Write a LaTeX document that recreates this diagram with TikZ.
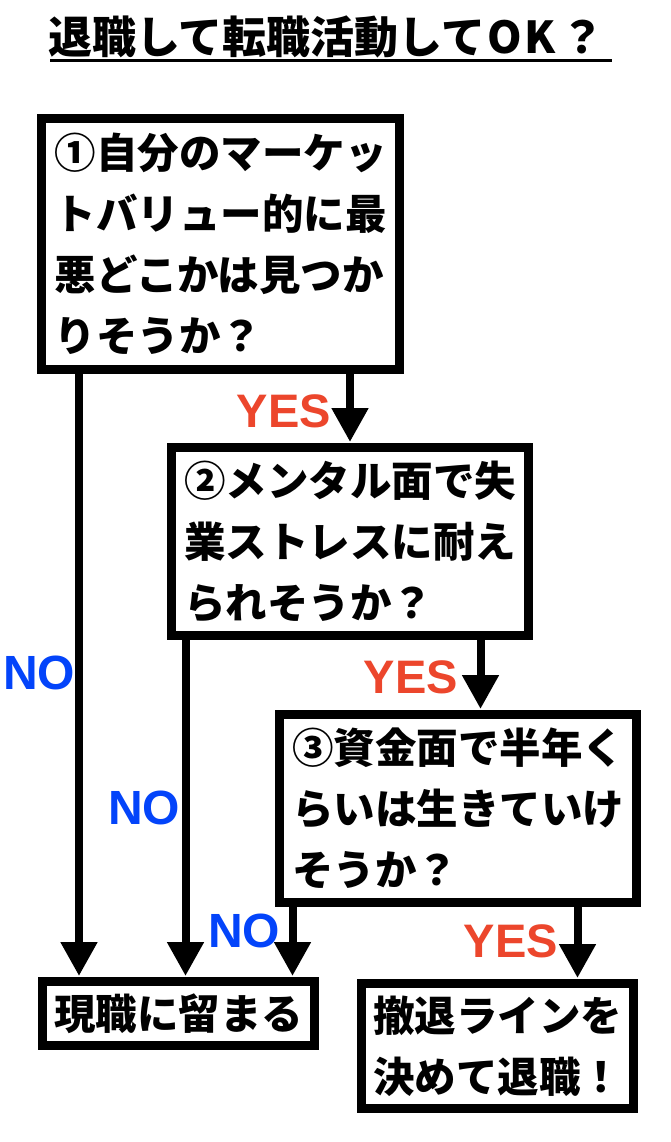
\documentclass[tikz,border=0pt]{standalone}
\usepackage{fontspec}
\newfontfamily\jp{Noto Sans CJK JP}
\newfontfamily\lat{Liberation Sans}
\usetikzlibrary{arrows.meta}
\definecolor{yescol}{RGB}{236,70,44}
\definecolor{nocol}{RGB}{3,68,250}
\begin{document}
\begin{tikzpicture}[x=1pt,y=-1pt,
  box/.style={draw=black, line width=9pt, inner sep=0pt, outer sep=0pt, align=left,
    font=\jp\bfseries\fontsize{41.5}{61}\selectfont},
  arr/.style={line width=8pt, -{Triangle[width=35pt,length=34pt]},
    shorten <=4.5pt, shorten >=5.5pt},
  yes/.style={font=\lat\bfseries\fontsize{47}{47}\selectfont, text=yescol,
    inner sep=0pt, anchor=base west},
  no/.style={font=\lat\bfseries\fontsize{48}{48}\selectfont, text=nocol,
    inner sep=0pt, anchor=base west},
  titlestyle/.style={font=\jp\bfseries\fontsize{44}{44}\selectfont,
    inner sep=0pt, anchor=base west}]
\fill[white] (0,0) rectangle (670,1142);
\useasboundingbox (0,0) rectangle (670,1142);

% title
\node[titlestyle] (t) at (48,54) {退職して転職活動して\kern2pt O\kern2pt K\kern5pt ？};
\draw[line width=2.5pt] (50,60.5) -- (612,60.5);

% boxes
\node[box, minimum width=358pt, minimum height=251pt] (b1) at (220.5,244)
  {①自分のマーケッ\\トバリュー的に最\\悪どこかは見つか\\りそうか？};
\node[box, minimum width=357pt, minimum height=188pt] (b2) at (350,541.5)
  {②メンタル面で失\\業ストレスに耐え\\られそうか？};
\node[box, minimum width=357pt, minimum height=188pt] (b3) at (458,808.5)
  {③資金面で半年く\\らいは生きていけ\\そうか？};
\node[box, minimum width=272pt, minimum height=64pt] (b4) at (178.5,1013.5)
  {現職に留まる};
\node[box, minimum width=272pt, minimum height=125pt] (b5) at (497.5,1046)
  {撤退ラインを\\決めて退職！};

% connector x positions
\coordinate (xa) at (79,0);
\coordinate (xb) at (350,0);
\coordinate (xc) at (185.5,0);
\coordinate (xd) at (480.5,0);
\coordinate (xe) at (292.5,0);
\coordinate (xf) at (577.5,0);

\draw[arr] (b1.south -| xa) -- (b4.north -| xa);
\draw[arr] (b1.south -| xb) -- (b2.north -| xb);
\draw[arr] (b2.south -| xc) -- (b4.north -| xc);
\draw[arr] (b2.south -| xd) -- (b3.north -| xd);
\draw[arr] (b3.south -| xe) -- (b4.north -| xe);
\draw[arr] (b3.south -| xf) -- (b5.north -| xf);

% labels
\node[yes] (y1) at (236.5,427) {YES};
\node[yes] (y2) at (363.5,693) {YES};
\node[yes] (y3) at (463.5,957) {YES};
\node[no] (n1) at (3,689) {NO};
\node[no] (n2) at (108,824) {NO};
\node[no] (n3) at (208,947) {NO};
\end{tikzpicture}
\end{document}
